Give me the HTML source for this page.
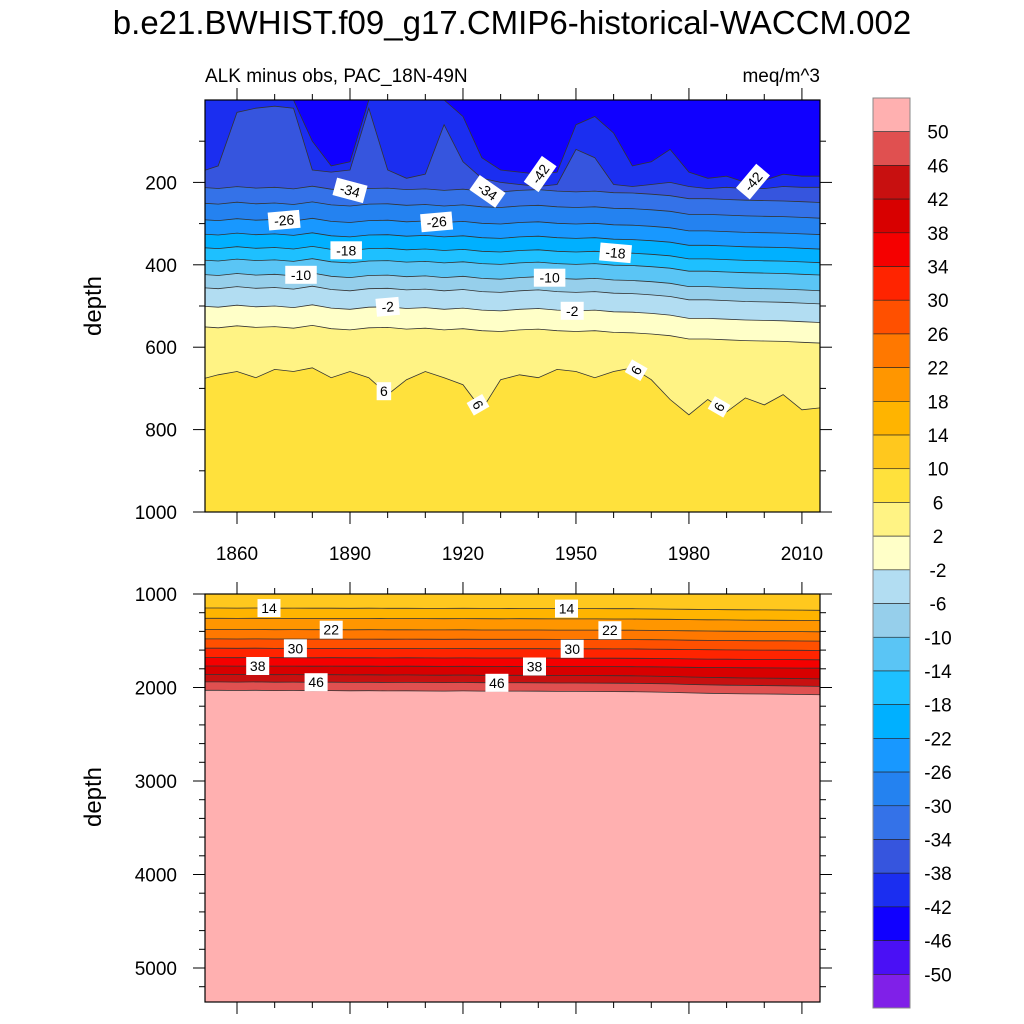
<!DOCTYPE html>
<html><head><meta charset="utf-8"><style>
body{margin:0;background:#fff}
svg{display:block;font-family:"Liberation Sans",Arial,sans-serif}
</style></head><body>
<svg id="c" width="1024" height="1024" xmlns="http://www.w3.org/2000/svg">
<text x="512" y="34" font-size="33" text-anchor="middle">b.e21.BWHIST.f09_g17.CMIP6-historical-WACCM.002</text>
<text x="205" y="82" font-size="19">ALK minus obs, PAC_18N-49N</text>
<text x="820" y="82" font-size="19" text-anchor="end">meq/m^3</text>
<text transform="translate(101,306) rotate(-90)" font-size="24" text-anchor="middle">depth</text>
<text transform="translate(101,797) rotate(-90)" font-size="24" text-anchor="middle">depth</text>
<defs>
<clipPath id="clipT"><rect x="205" y="100" width="615" height="412"/></clipPath>
<clipPath id="clipB"><rect x="205" y="594" width="615" height="408"/></clipPath>
</defs>
<g id="top" clip-path="url(#clipT)"></g>
<g id="bot" clip-path="url(#clipB)"></g>
<g id="axes"></g>
<g id="labels"></g>
<g id="cbar"></g>
</svg>
<script>
// ---- data ----
const years=[1850,1855,1860,1865,1870,1875,1880,1885,1890,1895,1900,1905,1910,1915,1920,1925,1930,1935,1940,1945,1950,1955,1960,1965,1970,1975,1980,1985,1990,1995,2000,2005,2010,2015];
const line42=[0,0,0,0,0,0,100,160,150,0,0,0,0,0,40,140,170,175,180,175,60,40,80,160,150,120,175,190,185,200,195,180,185,185];
const line38=[175,160,30,20,15,20,170,175,170,20,170,190,180,60,150,190,200,205,210,205,120,140,205,210,205,200,210,215,212,215,215,210,212,212];
const line6=[679,667,659,674,654,659,650,674,659,674,715,679,659,674,691,752,679,667,674,654,659,674,659,650,679,727,764,727,757,723,740,715,752,747];
const midLevels=[2,-2,-6,-10,-14,-18,-22,-26,-30,-34];
const midBase=[550,500,455,423,388,358,325,290,250,212];
const midShift=[0,3,-2,2,0,4,-3,5,8,3,2,6,4,8,5,10,12,8,6,10,12,10,14,15,18,22,30,30,32,34,35,36,38,40];
const deepLevels=[50,46,42,38,34,30,26,22,18,14];
const deepBase=[2030,1940,1860,1770,1680,1580,1480,1380,1260,1150];
const deepShift=[0,0,2,0,3,2,4,3,5,4,6,5,7,8,6,9,10,9,10,12,12,13,14,15,18,22,28,32,35,38,40,42,45,48];
const topLabels=[-34,-34,-42,-42,-26,-26,-18,-18,-10,-10,-2,-2,6,6,6,6];
const topLabelYears=[1890,1926.5,1940.5,1997,1872.5,1913,1889,1960.5,1877,1943,1900,1949,1899,1924,1966,1988];
const topLabelRot=[15,35,-55,-50,-5,-5,0,5,0,0,-5,0,0,60,-60,-60];
const botLabels=[14,14,22,22,30,30,38,38,46,46];
const botLabelYears=[1868.5,1947.5,1885,1959,1875.5,1949,1865.5,1939,1881,1929];
const cbarLevels=[50,46,42,38,34,30,26,22,18,14,10,6,2,-2,-6,-10,-14,-18,-22,-26,-30,-34,-38,-42,-46,-50];
const bandColors={"-54":"#8020E8","-50":"#4A10F5","-46":"#1000FF","-42":"#1B2EF0","-38":"#3655DE","-34":"#3472E8","-30":"#2482F0","-26":"#1898FF","-22":"#00B0FF","-18":"#1EC0FF","-14":"#5AC5F5","-10":"#96CFEB","-6":"#B2DDF2","-2":"#FFFFC8","2":"#FFF384","6":"#FFE13C","10":"#FFC81E","14":"#FFB400","18":"#FF9600","22":"#FF7800","26":"#FF5000","30":"#FF2400","34":"#F50000","38":"#D80000","42":"#C81010","46":"#E05050","50":"#FFB0B0"};
// ---- scales ----
const X0=205,X1=820,Y0=1851.5,Y1=2014.8;
const xs=y=>X0+(y-Y0)/(Y1-Y0)*(X1-X0);
const ysT=d=>100+d*0.412;
const ysB=d=>594+(d-1000)*0.0935;
const NS="http://www.w3.org/2000/svg";
function mk(tag,attrs,parent){const e=document.createElementNS(NS,tag);for(const k in attrs)e.setAttribute(k,attrs[k]);parent.appendChild(e);return e;}
function interp(arr,yr){if(yr<=years[0])return arr[0];for(let i=1;i<years.length;i++){if(yr<=years[i]){const t=(yr-years[i-1])/(years[i]-years[i-1]);return arr[i-1]+t*(arr[i]-arr[i-1]);}}return arr[arr.length-1];}
function drawLine(g,arr,ysc,topY,color,name){
  let pts=years.map((yr,i)=>xs(yr).toFixed(1)+","+ysc(arr[i]).toFixed(1));
  const poly=mk("polygon",{points:xs(years[0])+","+topY+" "+pts.join(" ")+" "+xs(years[years.length-1])+","+topY,fill:color},g);
  
  
  const pl=mk("polyline",{points:pts.join(" "),fill:"none",stroke:"#333",'stroke-width':0.8},g);
  
  
}
// top panel
const gT=document.getElementById("top");
const bgT=mk("rect",{x:205,y:100,width:615,height:412,fill:bandColors["6"]},gT);


const topArrays={};
topArrays[6]=line6;
midLevels.forEach((L,k)=>{topArrays[L]=midShift.map(s=>midBase[k]+s*(0.6+0.4*(k<4?1:0.8)));});
topArrays[-38]=line38;topArrays[-42]=line42;
drawLine(gT,line6,ysT,100,bandColors["2"],"contour-6");
midLevels.forEach(L=>drawLine(gT,topArrays[L],ysT,100,bandColors[String(L-4)],"contour-"+L));
drawLine(gT,line38,ysT,100,bandColors["-42"],"contour-m38");
drawLine(gT,line42,ysT,100,bandColors["-46"],"contour-m42");
// bottom panel
const gB=document.getElementById("bot");
const bgB=mk("rect",{x:205,y:594,width:615,height:408,fill:bandColors["50"]},gB);


const botArrays={};
deepLevels.forEach((L,k)=>{botArrays[L]=deepShift.map(s=>deepBase[k]+s*(k<3?1:0.5));drawLine(gB,botArrays[L],ysB,594,bandColors[String(L-4)],"contour-"+L);});
// axes
const gA=document.getElementById("axes");
function frame(y0,y1,name){const r=mk("rect",{x:205,y:y0,width:615,height:y1-y0,fill:"none",stroke:"#000",'stroke-width':1.2},gA);}
frame(100,512,"upper-plot-frame");frame(594,1002,"lower-plot-frame");
function tk(x1,y1,x2,y2){const l=mk("line",{x1,y1,x2,y2,stroke:"#000",'stroke-width':1},gA);}
for(let yr=1860;yr<=2010;yr+=10){const x=xs(yr);const maj=(yr-1860)%30===0;const L=maj?12:6;
  tk(x,512,x,512+L);tk(x,100,x,100-L);tk(x,594,x,594-L);tk(x,1002,x,1002+L);
  if(maj){const t=mk("text",{x:x,y:560,'font-size':19,'text-anchor':'middle'},gA);t.textContent=yr;}}
for(let d=100;d<=1000;d+=100){const y=ysT(d);const maj=d%200===0;const L=maj?12:6;tk(205,y,205-L,y);tk(820,y,820+L,y);
  if(maj){const t=mk("text",{x:177,y:y+7,'font-size':19,'text-anchor':'end'},gA);t.textContent=d;}}
for(let d=1000;d<=5200;d+=200){const y=ysB(d);const maj=d%1000===0;const L=maj?12:6;tk(205,y,205-L,y);tk(820,y,820+L,y);
  if(maj){const t=mk("text",{x:177,y:y+7,'font-size':19,'text-anchor':'end'},gA);t.textContent=d;}}
// contour labels
const gL=document.getElementById("labels");
function clabel(v,yr,y,rot){const x=xs(yr);const g=mk("g",{transform:`translate(${x.toFixed(1)},${y.toFixed(1)}) rotate(${rot})`},gL);
  
  const s=String(v);const w=s.length*8.5+6;
  mk("rect",{x:-w/2,y:-9,width:w,height:18,fill:"#fff"},g);
  const t=mk("text",{x:0,y:5,'font-size':14,'text-anchor':'middle'},g);t.textContent=s;}
topLabels.forEach((v,i)=>{const arr=topArrays[v];clabel(v,topLabelYears[i],ysT(interp(arr,topLabelYears[i])),topLabelRot[i]);});
botLabels.forEach((v,i)=>{const arr=botArrays[v];clabel(v,botLabelYears[i],ysB(interp(arr,botLabelYears[i])),0);});
// colorbar
const gC=document.getElementById("cbar");
const cb0=98,cbH=910/27;
for(let i=0;i<27;i++){const lo=i===0?50:(i===26?-54:cbarLevels[i]);
  const r=mk("rect",{x:873,y:cb0+i*cbH,width:37,height:cbH,fill:bandColors[String(lo)],stroke:"#222",'stroke-width':0.6},gC);
  }
mk("rect",{x:873,y:cb0,width:37,height:910,fill:"none",stroke:"#888",'stroke-width':1},gC);
cbarLevels.forEach((v,i)=>{const t=mk("text",{x:938,y:cb0+(i+1)*cbH+7,'font-size':19,'text-anchor':'middle'},gC);t.textContent=v;
  });
</script>
</body></html>
